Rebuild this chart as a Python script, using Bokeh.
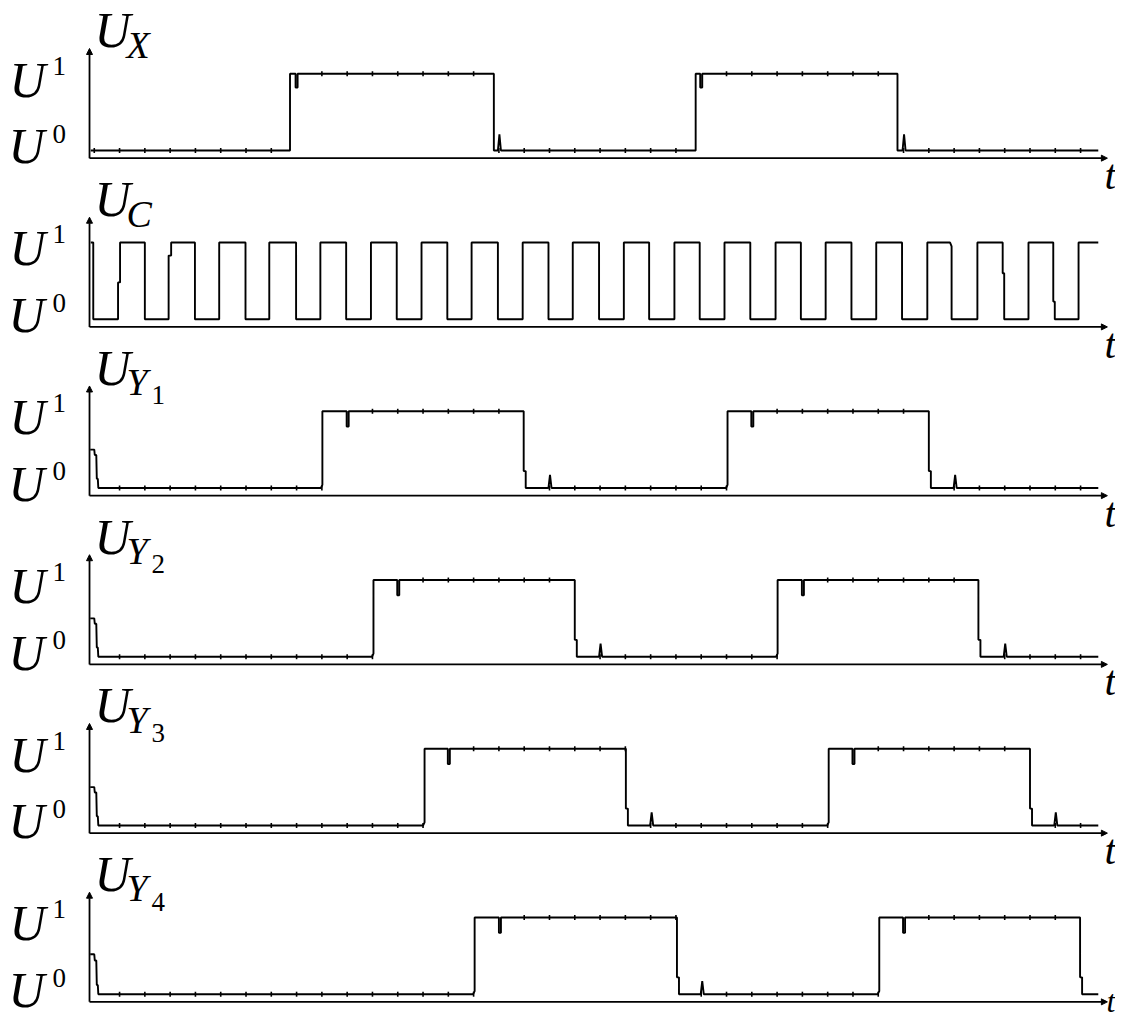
import numpy as np
from bokeh.plotting import figure
from bokeh.models import Range1d, Label, Arrow, NormalHead
from bokeh.embed import file_html
from bokeh.resources import INLINE

# ---------------- data (time in clock periods, level 0 = U0, 1 = U1) ----------------
ux_pts = [(0.05, 0), (3.99, 0), (3.99, 1), (4.10, 1), (4.10, 0.82), (4.14, 0.82), (4.14, 1),
          (8.02, 1), (8.02, 0), (8.10, 0), (8.13, 0.21), (8.16, 0),
          (12.01, 0), (12.01, 1), (12.10, 1), (12.10, 0.82), (12.14, 0.82), (12.14, 1),
          (16.00, 1), (16.00, 0), (16.10, 0), (16.13, 0.21), (16.16, 0), (19.97, 0)]

uc_pts = [(0.05, 1), (0.10, 1), (0.10, 0), (0.59, 0), (0.59, 0.48), (0.63, 0.48), (0.63, 1),
          (1.12, 1), (1.12, 0), (1.59, 0), (1.59, 0.83), (1.64, 0.83), (1.64, 1),
          (2.11, 1), (2.11, 0), (2.59, 0), (2.59, 1), (3.11, 1), (3.11, 0), (3.58, 0), (3.58, 1),
          (4.11, 1), (4.11, 0), (4.59, 0), (4.59, 1), (5.10, 1), (5.10, 0), (5.59, 0), (5.59, 1),
          (6.10, 1), (6.10, 0), (6.59, 0), (6.59, 1), (7.10, 1), (7.10, 0), (7.58, 0), (7.58, 1),
          (8.10, 1), (8.10, 0), (8.59, 0), (8.59, 1), (9.10, 1), (9.10, 0), (9.58, 0), (9.58, 1),
          (10.10, 1), (10.10, 0), (10.59, 0), (10.59, 1), (11.09, 1), (11.09, 0), (11.59, 0), (11.59, 1),
          (12.09, 1), (12.09, 0), (12.58, 0), (12.58, 1), (13.09, 1), (13.09, 0), (13.59, 0), (13.59, 1),
          (14.09, 1), (14.09, 0), (14.58, 0), (14.58, 1), (15.09, 1), (15.09, 0), (15.58, 0), (15.58, 1),
          (16.09, 1), (16.09, 0), (16.59, 0), (16.59, 1), (17.04, 1), (17.07, 0.95), (17.07, 0),
          (17.58, 0), (17.58, 1), (18.08, 1), (18.08, 0.60), (18.11, 0.60), (18.11, 0),
          (18.59, 0), (18.59, 1), (19.08, 1), (19.08, 0.23), (19.11, 0.23), (19.11, 0),
          (19.58, 0), (19.58, 1), (19.97, 1)]

uy1_pts = [(0.04, 0.5), (0.12, 0.5), (0.13, 0.43), (0.16, 0.43), (0.17, 0.12), (0.19, 0.12), (0.20, 0),
           (4.60, 0), (4.63, 0.04), (4.63, 1), (5.11, 1), (5.11, 0.80), (5.15, 0.80), (5.15, 1),
           (8.61, 1), (8.61, 0.22), (8.65, 0.22), (8.65, 0), (9.10, 0), (9.13, 0.17), (9.16, 0),
           (12.61, 0), (12.64, 0.04), (12.64, 1), (13.11, 1), (13.11, 0.80), (13.15, 0.80), (13.15, 1),
           (16.62, 1), (16.62, 0.22), (16.66, 0.22), (16.66, 0), (17.11, 0), (17.14, 0.17), (17.17, 0),
           (19.97, 0)]

uy2_pts = [(0.04, 0.5), (0.12, 0.5), (0.13, 0.43), (0.16, 0.43), (0.17, 0.12), (0.19, 0.12), (0.20, 0),
           (5.61, 0), (5.64, 0.04), (5.64, 1), (6.11, 1), (6.11, 0.80), (6.15, 0.80), (6.15, 1),
           (9.62, 1), (9.62, 0.22), (9.66, 0.22), (9.66, 0), (10.10, 0), (10.13, 0.17), (10.16, 0),
           (13.60, 0), (13.63, 0.04), (13.63, 1), (14.11, 1), (14.11, 0.80), (14.15, 0.80), (14.15, 1),
           (17.60, 1), (17.60, 0.22), (17.64, 0.22), (17.64, 0), (18.10, 0), (18.13, 0.17), (18.16, 0),
           (19.97, 0)]

uy3_pts = [(0.04, 0.5), (0.12, 0.5), (0.13, 0.43), (0.16, 0.43), (0.17, 0.12), (0.19, 0.12), (0.20, 0),
           (6.62, 0), (6.65, 0.04), (6.65, 1), (7.11, 1), (7.11, 0.80), (7.15, 0.80), (7.15, 1),
           (10.63, 1), (10.63, 0.22), (10.67, 0.22), (10.67, 0), (11.11, 0), (11.14, 0.17), (11.17, 0),
           (14.61, 0), (14.64, 0.04), (14.64, 1), (15.11, 1), (15.11, 0.80), (15.15, 0.80), (15.15, 1),
           (18.62, 1), (18.62, 0.22), (18.66, 0.22), (18.66, 0), (19.10, 0), (19.13, 0.17), (19.16, 0),
           (19.97, 0)]

uy4_pts = [(0.04, 0.52), (0.12, 0.52), (0.13, 0.44), (0.16, 0.44), (0.17, 0.12), (0.19, 0.12), (0.20, 0),
           (7.61, 0), (7.64, 0.04), (7.64, 1), (8.12, 1), (8.12, 0.80), (8.16, 0.80), (8.16, 1),
           (11.64, 1), (11.64, 0.22), (11.68, 0.22), (11.68, 0), (12.11, 0), (12.14, 0.17), (12.17, 0),
           (15.61, 0), (15.64, 0.04), (15.64, 1), (16.11, 1), (16.11, 0.80), (16.15, 0.80), (16.15, 1),
           (19.61, 1), (19.61, 0.22), (19.65, 0.22), (19.65, 0), (19.97, 0)]

# simulation sample instants (small tick marks on the traces)
sample_t = [0.12, 0.62, 1.12, 1.62, 2.12, 2.62, 3.12, 3.62, 4.12, 4.62,
            5.12, 5.62, 6.12, 6.62, 7.12, 7.62, 8.12, 8.62, 9.12, 9.62,
            10.12, 10.62, 11.12, 11.62, 12.12, 12.62, 13.12, 13.62, 14.12, 14.62,
            15.12, 15.62, 16.12, 16.62, 17.12, 17.62, 18.12, 18.62, 19.12, 19.62]

names = ["X", "C", "Y", "Y", "Y", "Y"]
name_idx = ["", "", "1", "2", "3", "4"]
signals = [ux_pts, uc_pts, uy1_pts, uy2_pts, uy3_pts, uy4_pts]
has_ticks = [True, False, True, True, True, True]

# ---------------- layout constants ----------------
PX_T = 50.58           # px per clock period
PX_V = 76.7            # px per level unit
T0_PX = 87.7           # picture x of t = 0
W, H = 1115, 1022
x_start = -T0_PX / PX_T
x_end = x_start + W / PX_T
y_end = 150 / PX_V
y_start = y_end - H / PX_V
STEP = 2.2             # vertical distance between panels (level units)
AX_T = 0.026           # time of the vertical axis
BASE = -0.10           # time-axis line below U0

p = figure(width=W, height=H, x_range=Range1d(x_start, x_end), y_range=Range1d(y_start, y_end),
           output_backend="svg", toolbar_location=None, x_axis_type=None, y_axis_type=None,
           min_border=0)
p.grid.visible = False
p.outline_line_color = None
p.background_fill_color = "white"

SERIF = "Liberation Serif"


def px2t(px):
    return (px - T0_PX) / PX_T


def add_label(x, y, text, size_px, italic=True):
    # the rendered glyphs sit about 0.36 em below the requested baseline; compensate
    y_fix = y + 0.36 * size_px / PX_V
    p.add_layout(Label(x=x, y=y_fix, text=text, text_font=SERIF,
                       text_font_style="italic" if italic else "normal",
                       text_font_size=f"{size_px}px", text_color="black",
                       text_align="left", text_baseline="alphabetic"))


for i, pts in enumerate(signals):
    off = -STEP * i
    ts = np.array([a for a, b in pts])
    vs = np.array([b for a, b in pts])
    p.line(ts, vs + off, line_color="black", line_width=1.9)

    if has_ticks[i]:
        st = np.array(sample_t)
        idx = np.searchsorted(ts, st, side="right") - 1
        cur = vs[idx]
        keep = (cur == 0) | (cur == 1)
        p.scatter(st[keep], cur[keep] + off, marker="dash", angle=np.pi / 2, size=5,
                  line_color="black", line_width=1.6)

    # axes with arrow heads
    p.add_layout(Arrow(end=NormalHead(size=6, fill_color="black", line_color="black", line_width=1),
                       x_start=AX_T, y_start=off + BASE, x_end=AX_T, y_end=off + 1.33,
                       line_color="black", line_width=1.8))
    p.add_layout(Arrow(end=NormalHead(size=6, fill_color="black", line_color="black", line_width=1),
                       x_start=AX_T, y_start=off + BASE, x_end=20.15, y_end=off + BASE,
                       line_color="black", line_width=1.8))

    # level labels U^1 and U^0
    add_label(px2t(9), off + 0.69, "U", 50)
    add_label(px2t(52), off + 0.98, "1", 27, italic=False)
    add_label(px2t(8), off - 0.18, "U", 50)
    add_label(px2t(52), off + 0.09, "0", 27, italic=False)

    # signal name U_X / U_C / U_{Y_k}
    add_label(px2t(94), off + 1.33, "U", 50)
    add_label(px2t(126), off + 1.20, names[i], 38)
    if name_idx[i]:
        add_label(px2t(151), off + 1.08, name_idx[i], 27, italic=False)

    # time label (the last one is lifted/shrunk a little so that it stays inside the picture)
    if i < len(signals) - 1:
        add_label(px2t(1104), off - 0.52, "t", 42)
    else:
        add_label(px2t(1106), off - 0.24, "t", 32)

open("out.html", "w").write(file_html(p, INLINE))
